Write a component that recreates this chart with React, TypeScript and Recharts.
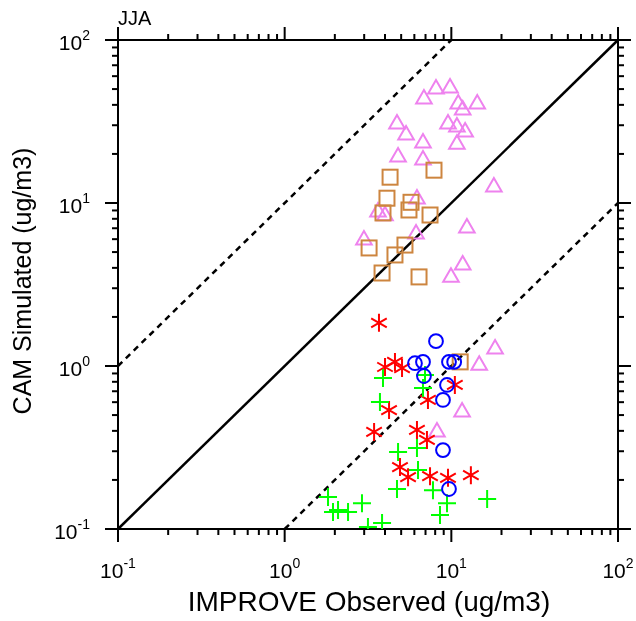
import React from 'react';
import { ScatterChart, Scatter, XAxis, YAxis, ReferenceLine } from 'recharts';

const axisTicks = [0.1, 0.2, 0.3, 0.4, 0.5, 0.6, 0.7, 0.8, 0.9, 1, 2, 3, 4, 5, 6, 7, 8, 9, 10, 20, 30, 40, 50, 60, 70, 80, 90, 100];
const axisDomain = [0.1, 100];

const triangleObs = [6.85, 8.09, 9.82, 14.3, 11.0, 11.7, 9.55, 10.8, 12.1, 10.8, 4.72, 5.35, 6.76, 4.79, 6.76, 18.0, 6.22, 3.63, 4.0, 12.4, 6.14, 2.99, 11.7, 9.95, 18.3, 14.7, 11.6, 8.2];
const triangleSim = [44.7, 51.5, 52.2, 41.7, 41.7, 38.3, 31.4, 30.1, 28.0, 23.6, 31.4, 26.9, 24.0, 19.7, 18.9, 12.9, 10.9, 9.06, 8.6, 7.23, 6.64, 6.1, 4.29, 3.61, 1.31, 1.04, 0.537, 0.405];

const squareObs = [4.29, 7.87, 4.11, 5.73, 5.57, 7.45, 3.89, 3.21, 4.59, 5.27, 3.84, 6.4, 11.3];
const squareSim = [14.4, 15.9, 10.7, 10.1, 9.06, 8.44, 8.69, 5.3, 4.8, 5.52, 3.72, 3.52, 1.06];

const starObs = [3.68, 4.0, 4.59, 5.06, 10.5, 7.24, 4.23, 3.44, 6.22, 7.14, 4.92, 5.5, 7.45, 9.55, 13.1];
const starSim = [1.84, 0.986, 1.06, 0.972, 0.765, 0.619, 0.537, 0.394, 0.405, 0.352, 0.24, 0.208, 0.211, 0.206, 0.214];

const plusObs = [3.73, 4.79, 6.22, 6.31, 4.72, 7.76, 9.42, 8.55, 16.4, 1.82, 1.95, 2.09, 2.4, 2.91, 3.16, 3.84, 3.89, 6.95, 6.76];
const plusSim = [0.601, 0.297, 0.314, 0.23, 0.176, 0.173, 0.144, 0.122, 0.153, 0.157, 0.127, 0.131, 0.127, 0.144, 0.103, 0.109, 0.844, 0.881, 0.733];

const circleObs = [8.09, 6.05, 6.76, 6.85, 9.68, 10.4, 9.42, 8.91, 8.91, 9.68];
const circleSim = [1.42, 1.04, 1.06, 0.868, 1.06, 1.06, 0.765, 0.619, 0.305, 0.176];

const toPoints = (xs: number[], ys: number[]) => xs.map((x, i) => ({ x, y: ys[i] }));

const triangles = toPoints(triangleObs, triangleSim);
const squares = toPoints(squareObs, squareSim);
const stars = toPoints(starObs, starSim);
const pluses = toPoints(plusObs, plusSim);
const circles = toPoints(circleObs, circleSim);

const FONT = '"Liberation Sans", Arial, Helvetica, sans-serif';
const SW = 2;

const expOf = (v: number) => {
  const l = Math.log10(v);
  const e = Math.round(l);
  return { e, major: Math.abs(l - e) < 1e-6 };
};

const BottomTick = (props: any) => {
  const { x, y, payload } = props;
  const { e, major } = expOf(payload.value);
  return (
    <g>
      <line x1={x} x2={x} y1={y} y2={y + (major ? 13 : 6)} stroke="#000" strokeWidth={SW} />
      {major && (
        <text x={x} y={y + 49} textAnchor="middle" fontSize={21} fontFamily={FONT} fill="#000">
          10<tspan dy={-10} fontSize={14}>{e}</tspan>
        </text>
      )}
    </g>
  );
};

const TopTick = (props: any) => {
  const { x, y, payload } = props;
  const { major } = expOf(payload.value);
  return <line x1={x} x2={x} y1={y} y2={y - (major ? 13 : 6)} stroke="#000" strokeWidth={SW} />;
};

const LeftTick = (props: any) => {
  const { x, y, payload } = props;
  const { e, major } = expOf(payload.value);
  return (
    <g>
      <line x1={x} x2={x - (major ? 13 : 6)} y1={y} y2={y} stroke="#000" strokeWidth={SW} />
      {major && (
        <text x={x - 28} y={y + 10} textAnchor="end" fontSize={21} fontFamily={FONT} fill="#000">
          10<tspan dy={-10} fontSize={14}>{e}</tspan>
        </text>
      )}
    </g>
  );
};

const RightTick = (props: any) => {
  const { x, y, payload } = props;
  const { major } = expOf(payload.value);
  return <line x1={x} x2={x + (major ? 13 : 6)} y1={y} y2={y} stroke="#000" strokeWidth={SW} />;
};

const TriangleShape = (p: any) => {
  const { cx, cy } = p;
  return (
    <path
      d={`M${cx},${cy - 7} L${cx + 7.8},${cy + 6.5} L${cx - 7.8},${cy + 6.5} Z`}
      fill="none"
      stroke="#EE82EE"
      strokeWidth={SW}
      strokeLinejoin="miter"
    />
  );
};

const SquareShape = (p: any) => {
  const { cx, cy } = p;
  return <rect x={cx - 7.5} y={cy - 7.5} width={15} height={15} fill="none" stroke="#CD853F" strokeWidth={SW} />;
};

const CircleShape = (p: any) => {
  const { cx, cy } = p;
  return <circle cx={cx} cy={cy} r={6.9} fill="none" stroke="#0000FF" strokeWidth={SW} />;
};

const PlusShape = (p: any) => {
  const { cx, cy } = p;
  return (
    <path d={`M${cx - 9},${cy} L${cx + 9},${cy} M${cx},${cy - 9} L${cx},${cy + 9}`} stroke="#00FF00" strokeWidth={SW} fill="none" />
  );
};

const StarShape = (p: any) => {
  const { cx, cy } = p;
  const r = 9;
  const a = Math.cos(Math.PI / 6) * r;
  const b = Math.sin(Math.PI / 6) * r;
  return (
    <path
      d={`M${cx},${cy - r} L${cx},${cy + r} M${cx - a},${cy - b} L${cx + a},${cy + b} M${cx - a},${cy + b} L${cx + a},${cy - b}`}
      stroke="#FF0000"
      strokeWidth={SW}
      fill="none"
    />
  );
};

const axisLine = { stroke: '#000', strokeWidth: SW };

export default function App() {
  return (
    <div style={{ position: 'fixed', left: 0, top: 0, width: 636, height: 621 }}>
      <ScatterChart width={636} height={621} margin={{ top: 0, right: 0, bottom: 0, left: 0 }}>
        <XAxis
          xAxisId={0}
          dataKey="x"
          type="number"
          scale="log"
          domain={axisDomain}
          allowDataOverflow
          ticks={axisTicks}
          interval={0}
          tickSize={0}
          tickMargin={0}
          tickLine={false}
          axisLine={axisLine}
          tick={<BottomTick />}
          height={92}
          orientation="bottom"
        />
        <XAxis
          xAxisId="top"
          dataKey="x"
          type="number"
          scale="log"
          domain={axisDomain}
          allowDataOverflow
          ticks={axisTicks}
          interval={0}
          tickSize={0}
          tickMargin={0}
          tickLine={false}
          axisLine={axisLine}
          tick={<TopTick />}
          height={40}
          orientation="top"
        />
        <YAxis
          yAxisId={0}
          dataKey="y"
          type="number"
          scale="log"
          domain={axisDomain}
          allowDataOverflow
          ticks={axisTicks}
          interval={0}
          tickSize={0}
          tickMargin={0}
          tickLine={false}
          axisLine={axisLine}
          tick={<LeftTick />}
          width={118}
          orientation="left"
        />
        <YAxis
          yAxisId="right"
          dataKey="y"
          type="number"
          scale="log"
          domain={axisDomain}
          allowDataOverflow
          ticks={axisTicks}
          interval={0}
          tickSize={0}
          tickMargin={0}
          tickLine={false}
          axisLine={axisLine}
          tick={<RightTick />}
          width={18}
          orientation="right"
        />
        <ReferenceLine
          segment={[{ x: 0.1, y: 0.1 }, { x: 100, y: 100 }]}
          stroke="#000"
          strokeWidth={2.5}
        />
        <ReferenceLine
          segment={[{ x: 0.1, y: 1 }, { x: 10, y: 100 }]}
          stroke="#000"
          strokeWidth={2.5}
          strokeDasharray="6 5"
        />
        <ReferenceLine
          segment={[{ x: 1, y: 0.1 }, { x: 100, y: 10 }]}
          stroke="#000"
          strokeWidth={2.5}
          strokeDasharray="6 5"
        />
        <Scatter data={triangles} shape={<TriangleShape />} isAnimationActive={false} />
        <Scatter data={squares} shape={<SquareShape />} isAnimationActive={false} />
        <Scatter data={stars} shape={<StarShape />} isAnimationActive={false} />
        <Scatter data={pluses} shape={<PlusShape />} isAnimationActive={false} />
        <Scatter data={circles} shape={<CircleShape />} isAnimationActive={false} />
        <text x={118} y={25} fontSize={20} fontFamily={FONT} fill="#000">JJA</text>
        <text x={369} y={611} textAnchor="middle" fontSize={28} fontFamily={FONT} fill="#000">IMPROVE Observed (ug/m3)</text>
        <text
          x={22}
          y={281}
          textAnchor="middle"
          dominantBaseline="central"
          fontSize={25}
          fontFamily={FONT}
          fill="#000"
          transform="rotate(-90 22 281)"
        >
          CAM Simulated (ug/m3)
        </text>
      </ScatterChart>
    </div>
  );
}
